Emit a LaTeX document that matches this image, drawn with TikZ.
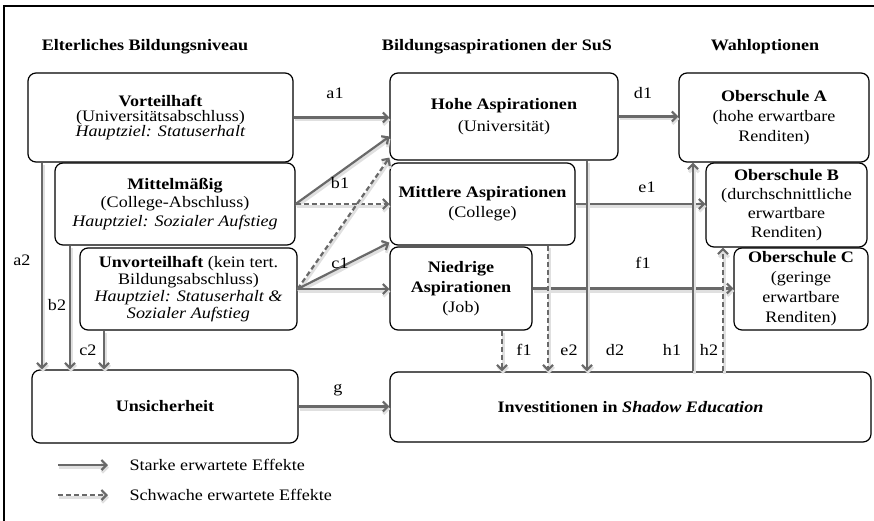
\documentclass[tikz,border=0pt]{standalone}
\usepackage{fontspec}
\setmainfont{Liberation Serif}[FakeStretch=1.13]
\usetikzlibrary{arrows.meta}
\definecolor{arrowgray}{RGB}{105,105,105}
\newcommand{\setlead}[1]{\fontsize{16}{#1}\selectfont}

\begin{document}
\begin{tikzpicture}
  [x=1pt, y=-1pt,
   box/.style={draw, rounded corners=8pt, line width=1.2pt, fill=white,
               align=center, inner sep=0pt, font=\setlead{20}},
   strong/.style={draw=arrowgray, line width=2.2pt,
                  -{Straight Barb[length=5pt,width=10pt]},
                  preaction={draw=black!12, line width=3pt,
                             transform canvas={shift={(1pt,-2.5pt)}}}},
   weak/.style={strong, dash pattern=on 5pt off 3pt},
   lbl/.style={font=\setlead{18}},
   head/.style={font=\bfseries\setlead{18}}]
   \useasboundingbox (0,0) rectangle (874,521);
   % frame
   \draw[line width=2pt] (4,521) -- (4,6) -- (874,6);

   % column headings
   \node[head] (hEltern) at (145,47) {Elterliches Bildungsniveau};
   \node[head] (hAsp)    at (497,47) {Bildungsaspirationen der SuS};
   \node[head] (hWahl)   at (765,47) {Wahloptionen};

   % parents
   \node[box, minimum width=265pt, minimum height=89pt, font=\setlead{15}]
     (vorteil) at (160.5,117.5)
     {\textbf{Vorteilhaft}\\(Universitätsabschluss)\\\textit{Hauptziel: Statuserhalt}};
   \node[box, minimum width=240pt, minimum height=82pt, font=\setlead{18.5}]
     (mittel) at (175,204)
     {\textbf{Mittelmäßig}\\(College-Abschluss)\\\textit{Hauptziel: Sozialer Aufstieg}};
   \node[box, minimum width=217pt, minimum height=82pt, font=\setlead{17}]
     (unvorteil) at (188.5,289)
     {\textbf{Unvorteilhaft} (kein tert.\\Bildungsabschluss)\\
      \textit{Hauptziel: Statuserhalt \&}\\\textit{Sozialer Aufstieg}};
   \node[box, minimum width=266pt, minimum height=73pt]
     (unsicher) at (165,406.5) {\textbf{Unsicherheit}};

   % aspirations
   \node[box, minimum width=228pt, minimum height=87pt, font=\setlead{22}]
     (hohe) at (504,116.5) {\textbf{Hohe Aspirationen}\\(Universität)};
   \node[box, minimum width=185pt, minimum height=82pt]
     (mittlere) at (482.5,204) {\textbf{Mittlere Aspirationen}\\(College)};
   \node[box, minimum width=142pt, minimum height=83pt]
     (niedrig) at (461,288.5) {\textbf{Niedrige}\\\textbf{Aspirationen}\\(Job)};
   \node[box, minimum width=481pt, minimum height=70pt]
     (invest) at (630.5,407) {\textbf{Investitionen in \textit{Shadow Education}}};

   % options
   \node[box, minimum width=190pt, minimum height=89pt]
     (schuleA) at (774,117.5) {\textbf{Oberschule A}\\(hohe erwartbare\\Renditen)};
   \node[box, minimum width=161pt, minimum height=84pt, font=\setlead{19}]
     (schuleB) at (786.5,205)
     {\textbf{Oberschule B}\\(durchschnittliche\\erwartbare\\Renditen)};
   \node[box, minimum width=134pt, minimum height=82pt]
     (schuleC) at (801,289) {\textbf{Oberschule C}\\(geringe\\erwartbare\\Renditen)};

   % x positions of the vertical arrows
   \coordinate (xa2) at (42,0);
   \coordinate (xb2) at (70,0);
   \coordinate (xc2) at (104,0);
   \coordinate (xf1) at (502,0);
   \coordinate (xe2) at (548,0);
   \coordinate (xd2) at (587,0);
   \coordinate (xh1) at (693,0);
   \coordinate (xh2) at (723,0);

   % parents -> aspirations
   \draw[strong] (vorteil.east) -- (vorteil.east -| hohe.west);
   \draw[strong] (mittel.east) -- ([yshift=-20pt]hohe.west);
   \draw[weak]   (mittel.east) -- (mittel.east -| mittlere.west);
   \draw[weak]   (unvorteil.east) -- ([yshift=3pt]hohe.south west);
   \draw[strong] (unvorteil.east) -- ([yshift=3pt]mittlere.south west);
   \draw[strong] (unvorteil.east) -- (unvorteil.east -| niedrig.west);

   % parents -> uncertainty
   \draw[strong] (vorteil.south -| xa2) -- (unsicher.north -| xa2);
   \draw[strong] (mittel.south -| xb2) -- (unsicher.north -| xb2);
   \draw[strong] (unvorteil.south -| xc2) -- (unsicher.north -| xc2);
   \draw[strong] (unsicher.east) -- (unsicher.east -| invest.west);

   % aspirations -> options / investment
   \draw[strong] (hohe.east) -- (hohe.east -| schuleA.west);
   \draw[strong] (mittlere.east) -- (mittlere.east -| schuleB.west);
   \draw[strong] (niedrig.east) -- (niedrig.east -| schuleC.west);
   \draw[weak]   (niedrig.south -| xf1) -- (invest.north -| xf1);
   \draw[weak]   (mittlere.south -| xe2) -- (invest.north -| xe2);
   \draw[strong] (hohe.south -| xd2) -- (invest.north -| xd2);
   \draw[strong] (invest.north -| xh1) -- (schuleA.south -| xh1);
   \draw[weak]   (invest.north -| xh2) -- (schuleB.south -| xh2);

   % path labels
   \node[lbl] (la1) at (335,93)  {a1};
   \node[lbl] (lb1) at (340,183) {b1};
   \node[lbl] (lc1) at (340,263) {c1};
   \node[lbl] (ld1) at (643,93)  {d1};
   \node[lbl] (le1) at (647,187) {e1};
   \node[lbl] (lf1) at (643,263) {f1};
   \node[lbl] (lg)  at (338,390) {g};
   \node[lbl] (la2) at (22,260)  {a2};
   \node[lbl] (lb2) at (57,305)  {b2};
   \node[lbl] (lc2) at (88,350)  {c2};
   \node[lbl] (lf1b) at (524,350) {f1};
   \node[lbl] (le2) at (569,350) {e2};
   \node[lbl] (ld2) at (615,350) {d2};
   \node[lbl] (lh1) at (672,350) {h1};
   \node[lbl] (lh2) at (709,350) {h2};

   % legend
   \coordinate (legStrongA) at (58,465);
   \coordinate (legStrongB) at (108,465);
   \coordinate (legWeakA)   at (58,495);
   \coordinate (legWeakB)   at (108,495);
   \draw[strong] (legStrongA) -- (legStrongB);
   \draw[weak]   (legWeakA) -- (legWeakB);
   \node[lbl, anchor=west] (legStrong) at (126,465) {Starke erwartete Effekte};
   \node[lbl, anchor=west] (legWeak)   at (126,495) {Schwache erwartete Effekte};
\end{tikzpicture}
\end{document}
